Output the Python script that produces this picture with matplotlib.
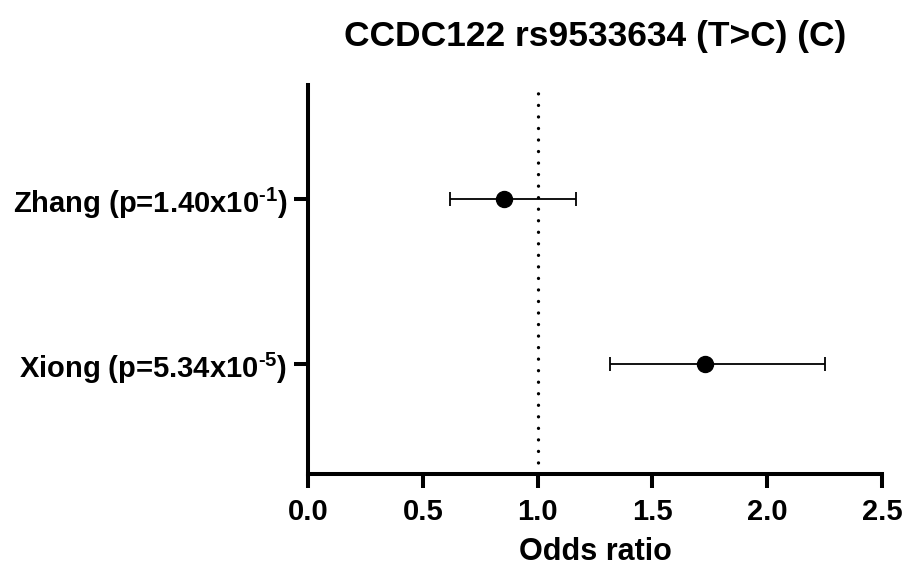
import matplotlib
matplotlib.use("Agg")
import matplotlib.pyplot as plt

plt.rcParams['font.family'] = ['Liberation Sans', 'DejaVu Sans']
plt.rcParams['font.weight'] = 'bold'
plt.rcParams['mathtext.fontset'] = 'custom'
plt.rcParams['mathtext.rm'] = 'Liberation Sans'
plt.rcParams['mathtext.it'] = 'Liberation Sans'
plt.rcParams['mathtext.bf'] = 'Liberation Sans:bold'
plt.rcParams['mathtext.default'] = 'rm'

# data
studies = [r'Zhang (p=1.40x10$^{\text{-1}}$)', r'Xiong (p=5.34x10$^{\text{-5}}$)']
odds_ratio = [0.852, 1.727]
ci_low = [0.619, 1.317]
ci_high = [1.166, 2.254]
xticks = [0.0, 0.5, 1.0, 1.5, 2.0, 2.5]

fig = plt.figure(figsize=(9.1, 5.72), dpi=100)
ax = fig.add_axes([0.3385, 0.1713, 0.6307, 0.680])

ypos = list(range(1, len(studies) + 1))
err = [[o - l for o, l in zip(odds_ratio, ci_low)],
       [h - o for o, h in zip(odds_ratio, ci_high)]]

ax.axvline(1.0, color='black', lw=2.4, linestyle=(0, (0.01, 3.45)),
           dash_capstyle='round', zorder=1)
ax.errorbar(odds_ratio, ypos, xerr=err, fmt='o', color='black',
            markersize=11.5, elinewidth=1.3, capsize=5, capthick=1.3, zorder=3)

ax.set_xlim(0, 2.5)
ax.set_ylim(2.667, 0.309)
ax.set_xticks(xticks)
ax.set_xticklabels([f'{t:.1f}' for t in xticks])
ax.set_yticks(ypos)
ax.set_yticklabels(studies)

for s in ['top', 'right']:
    ax.spines[s].set_visible(False)
for s in ['left', 'bottom']:
    ax.spines[s].set_linewidth(2.9)

ax.tick_params(axis='x', width=2.9, length=10, labelsize=21, pad=7)
ax.tick_params(axis='y', width=2.9, length=10, labelsize=21, pad=5)

ax.set_xlabel('Odds ratio', fontsize=22, fontweight='bold', labelpad=8)
ax.set_title('CCDC122 rs9533634 (T>C) (C)', fontsize=25.5, fontweight='bold', pad=28)

fig.savefig('out.png', dpi=100)
